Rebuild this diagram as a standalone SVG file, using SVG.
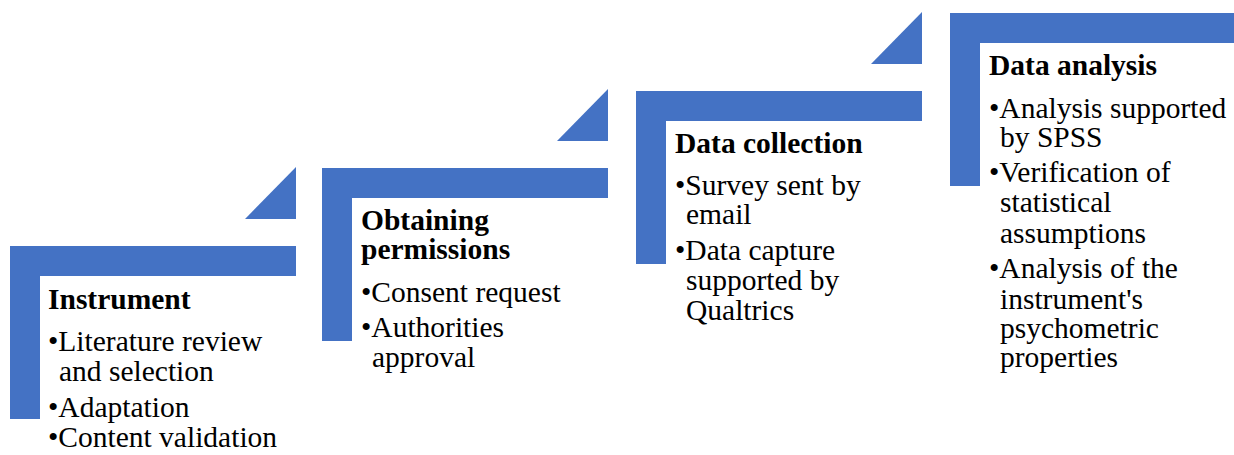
<svg xmlns="http://www.w3.org/2000/svg" width="1234" height="455" viewBox="0 0 1234 455">
<style>
.bar{fill:#4472C4;}
.tri{fill:#4472C4;}
text{font-size:29.5px;fill:#000;}
.t{font-weight:bold;}
</style>
<rect width="1234" height="455" fill="#fff"/>
<g id="connectors">
<polygon class="tri" points="296,167 245,219 296,219"/>
<polygon class="tri" points="608,89 557,141 608,141"/>
<polygon class="tri" points="922,12 871,64 922,64"/>
</g>
<g font-family="Liberation Serif, Times New Roman, serif">
<g id="node-instrument">
<path class="bar" d="M10 246 H296 V276 H40 V419 H10 Z"/>
<text class="t" x="48" y="309">Instrument</text>
<text x="48" y="351">•Literature review</text>
<text x="59" y="381">and selection</text>
<text x="48" y="417">•Adaptation</text>
<text x="48" y="447">•Content validation</text>
</g>
<g id="node-permissions">
<path class="bar" d="M322 168 H608 V198 H352 V341 H322 Z"/>
<text class="t" x="361" y="230">Obtaining</text>
<text class="t" x="361" y="259">permissions</text>
<text x="361" y="302">•Consent request</text>
<text x="361" y="337">•Authorities</text>
<text x="372" y="367">approval</text>
</g>
<g id="node-collection">
<path class="bar" d="M636 91 H922 V121 H666 V264 H636 Z"/>
<text class="t" x="675" y="153">Data collection</text>
<text x="675" y="195">•Survey sent by</text>
<text x="686" y="224">email</text>
<text x="675" y="260">•Data capture</text>
<text x="686" y="290">supported by</text>
<text x="686" y="320">Qualtrics</text>
</g>
<g id="node-analysis">
<path class="bar" d="M950 13 H1236 V43 H980 V186 H950 Z"/>
<text class="t" x="989" y="75">Data analysis</text>
<text x="989" y="118">•Analysis supported</text>
<text x="1000" y="147">by SPSS</text>
<text x="989" y="182">•Verification of</text>
<text x="1000" y="212">statistical</text>
<text x="1000" y="243">assumptions</text>
<text x="989" y="278">•Analysis of the</text>
<text x="1000" y="309">instrument's</text>
<text x="1000" y="338">psychometric</text>
<text x="1000" y="367">properties</text>
</g>
</g>
</svg>
